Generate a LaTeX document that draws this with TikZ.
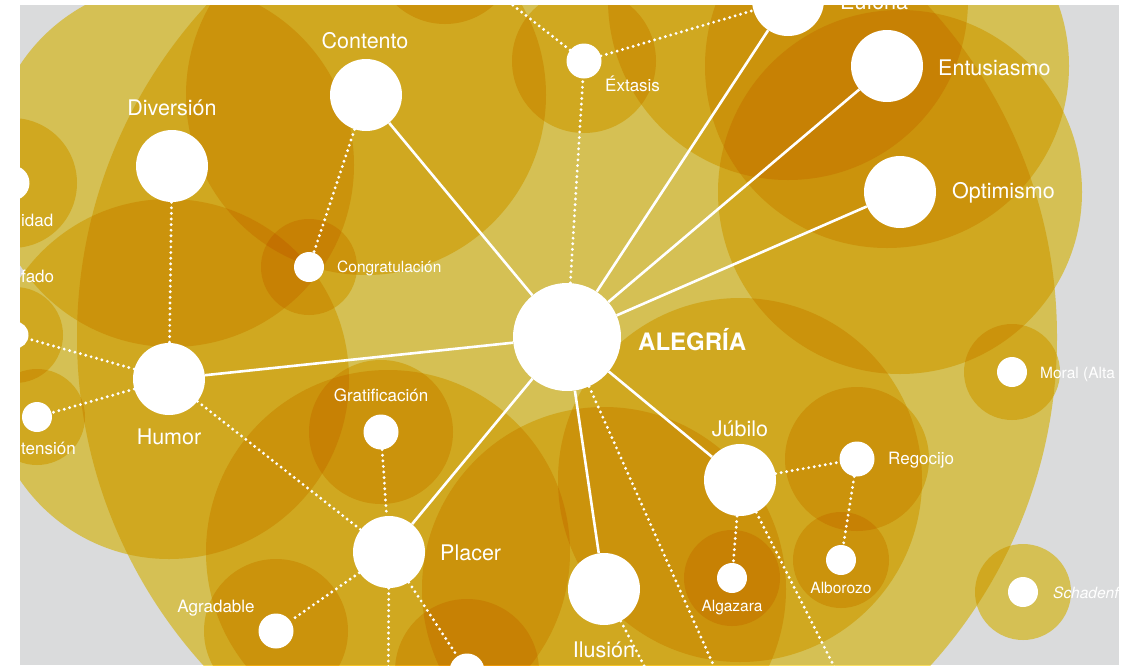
\documentclass[tikz,border=0pt]{standalone}
\usepackage{fontspec}
\setmainfont{TeX Gyre Heros}
\usepackage{tikz}

\definecolor{goldlayer}{RGB}{250,224,98}
\definecolor{backgray}{RGB}{218,219,220}

\tikzset{
	main/.style={shape=circle,fill=white,inner sep=0pt,minimum size=72pt},
	sub/.style={shape=circle,fill=white,inner sep=0pt,minimum size=35pt},
	small/.style={shape=circle,fill=white,inner sep=0pt,minimum size=30pt},
	mainlabel/.style={text=white,inner sep=0pt,font=\fontsize{21.5}{21.5}\selectfont},
	sublabel/.style={text=white,inner sep=0pt,font=\fontsize{17}{17}\selectfont},
	smalllabel/.style={text=white,inner sep=0pt,font=\fontsize{15.5}{15.5}\selectfont},
	solidlink/.style={white,line width=2.6pt},
	dotlink/.style={white,line width=3.2pt,line cap=round,dash pattern=on 0pt off 5.6pt},
	layer/.style={fill=goldlayer}
}

\begin{document}
\begin{tikzpicture}[x=1pt,y=-1pt]
	\useasboundingbox (0,0) rectangle (1127,665);
	\fill[white] (0,0) rectangle (1127,665);
	\begin{scope}
	\clip (20,5) rectangle (1119,665);
	\fill[backgray] (20,5) rectangle (1119,665);

	\begin{scope}[blend mode=multiply]
		\fill[layer] (567,337) circle[radius=490pt];
		\fill[layer] (172,165) circle[radius=182pt];
		\fill[layer] (366,95)  circle[radius=180pt];
		\fill[layer] (169,379) circle[radius=180pt];
		\fill[layer] (388,552) circle[radius=182pt];
		\fill[layer] (604,589) circle[radius=182pt];
		\fill[layer] (740,480) circle[radius=182pt];
		\fill[layer] (788,0)   circle[radius=180pt];
		\fill[layer] (887,66)  circle[radius=182pt];
		\fill[layer] (900,192) circle[radius=182pt];
		\fill[layer] (584,61)  circle[radius=72pt];
		\fill[layer] (445,-48) circle[radius=72pt];
		\fill[layer] (381,432) circle[radius=72pt];
		\fill[layer] (276,631) circle[radius=72pt];
		\fill[layer] (467,671) circle[radius=72pt];
		\fill[layer] (857,459) circle[radius=72pt];
		\fill[layer] (12,183)  circle[radius=65pt];
		\fill[layer] (309,267) circle[radius=48pt];
		\fill[layer] (732,578) circle[radius=48pt];
		\fill[layer] (841,560) circle[radius=48pt];
		\fill[layer] (1012,372) circle[radius=48pt];
		\fill[layer] (1023,592) circle[radius=48pt];
		\fill[layer] (37,417)  circle[radius=48pt];
		\fill[layer] (15,335)  circle[radius=48pt];
	\end{scope}

	\node[main,minimum size=108pt] (alegria) at (567,337) {};
	\node[main] (contento)   at (366,95)  {};
	\node[main] (diversion)  at (172,166) {};
	\node[main] (humor)      at (169,379) {};
	\node[main] (placer)     at (389,552) {};
	\node[main] (ilusion)    at (604,589) {};
	\node[main] (jubilo)     at (740,480) {};
	\node[main] (euforia)    at (788,0)   {};
	\node[main] (entusiasmo) at (887,66)  {};
	\node[main] (optimismo)  at (900,192) {};
	\node[sub]   (extasis)      at (584,61)  {};
	\node[sub]   (gratif)       at (381,432) {};
	\node[sub]   (agradable)    at (276,631) {};
	\node[sub]   (abajo)        at (467,671) {};
	\node[sub]   (regocijo)     at (857,459) {};
	\node[sub]   (jovial)       at (12,183)  {};
	\node[small] (congrat)      at (309,267) {};
	\node[small] (algazara)     at (732,578) {};
	\node[small] (alborozo)     at (841,560) {};
	\node[small] (moral)        at (1012,372) {};
	\node[small] (schaden)      at (1023,592) {};
	\node[small] (distension)   at (37,417)  {};
	\node[small,minimum size=27pt] (desenfado) at (15,335) {};
	\coordinate (arriba)    at (445,-48);
	\coordinate (plcbajo)   at (388,720);
	\coordinate (ilubajo)   at (662,700);
	\coordinate (alebajo)   at (729,700);
	\coordinate (jubbajo)   at (851,700);

	\node[mainlabel,font=\fontsize{24}{24}\selectfont\bfseries,anchor=west] (alegrialbl) at (638,340) {ALEGRÍA};
	\node[mainlabel] (contentolbl)   at (365,41)  {Contento};
	\node[mainlabel] (diversionlbl)  at (172,108) {Diversión};
	\node[mainlabel] (humorlbl)      at (169,437) {Humor};
	\node[mainlabel,anchor=west] (placerlbl) at (440,553) {Placer};
	\node[mainlabel] (ilusionlbl)    at (604,650) {Ilusión};
	\node[mainlabel] (jubilolbl)     at (740,429) {Júbilo};
	\node[mainlabel,anchor=base west] (euforialbl) at (840,9) {Euforia};
	\node[mainlabel,anchor=west] (entusiasmolbl) at (938,68)  {Entusiasmo};
	\node[mainlabel,anchor=west] (optimismolbl)  at (952,193) {Optimismo};
	\node[sublabel,anchor=west]  (extasislbl)    at (605,84)  {Éxtasis};
	\node[sublabel]              (gratiflbl)     at (381,395) {Gratificación};
	\node[sublabel]              (agradablelbl)  at (216,608) {Agradable};
	\node[sublabel,anchor=west]  (regocijolbl)   at (888,460) {Regocijo};
	\node[sublabel,anchor=west]  (joviallbl)     at (21,220)  {idad};
	\node[sublabel,anchor=west]  (desenfadolbl)  at (21,276)  {fado};
	\node[sublabel,anchor=west]  (distensionlbl) at (21,448)  {tensión};
	\node[smalllabel,anchor=west] (congratlbl)   at (337,268) {Congratulación};
	\node[smalllabel]             (algazaralbl)  at (732,608) {Algazara};
	\node[smalllabel]             (alborozolbl)  at (841,588) {Alborozo};
	\node[smalllabel,anchor=west] (morallbl)     at (1040,374) {Moral (Alta};
	\node[smalllabel,anchor=west,font=\fontsize{15.5}{15.5}\selectfont\itshape] (schadenlbl) at (1053,593) {Schadenf};

	\path[solidlink] (alegria) edge (contento);
	\path[solidlink] (alegria) edge (humor);
	\path[solidlink] (alegria) edge (placer);
	\path[solidlink] (alegria) edge (ilusion);
	\path[solidlink] (alegria) edge (jubilo);
	\path[solidlink] (alegria) edge (optimismo);
	\path[solidlink] (alegria) edge (entusiasmo);
	\path[solidlink] (alegria) edge (euforia);

	\path[dotlink] (alegria) edge (extasis);
	\path[dotlink] (extasis) edge (euforia);
	\path[dotlink] (extasis) edge (arriba);
	\path[dotlink] (contento) edge (congrat);
	\path[dotlink] (diversion) edge (humor);
	\path[dotlink] (humor) edge (desenfado);
	\path[dotlink] (humor) edge (distension);
	\path[dotlink] (humor) edge (placer);
	\path[dotlink] (gratif) edge (placer);
	\path[dotlink] (placer) edge (agradable);
	\path[dotlink] (placer) edge (abajo);
	\path[dotlink] (placer) edge (plcbajo);
	\path[dotlink] (ilusion) edge (ilubajo);
	\path[dotlink] (alegria) edge (alebajo);
	\path[dotlink] (jubilo) edge (regocijo);
	\path[dotlink] (jubilo) edge (algazara);
	\path[dotlink] (jubilo) edge (jubbajo);
	\path[dotlink] (regocijo) edge (alborozo);
	\end{scope}
\end{tikzpicture}
\end{document}
